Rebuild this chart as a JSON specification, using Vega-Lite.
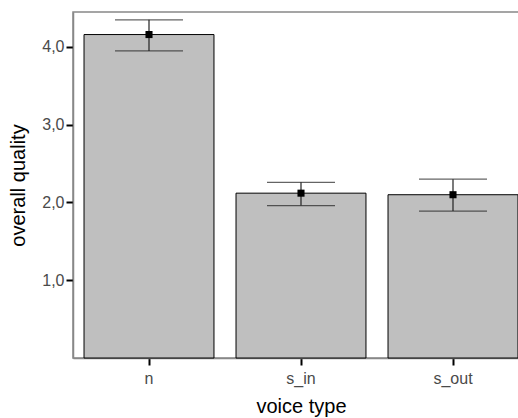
{
  "$schema": "https://vega.github.io/schema/vega-lite/v6.json",
  "autosize": "none",
  "padding": {"left": 73, "top": 12, "right": 0, "bottom": 60},
  "width": 456,
  "height": 346,
  "background": "white",
  "config": {
    "font": "Liberation Sans",
    "view": {"stroke": "#888888", "strokeWidth": 1.5},
    "axis": {"grid": false}
  },
  "data": {
    "values": [
      {"type": "n", "mean": 4.16, "lo": 3.95, "hi": 4.35},
      {"type": "s_in", "mean": 2.12, "lo": 1.96, "hi": 2.26},
      {"type": "s_out", "mean": 2.10, "lo": 1.89, "hi": 2.30}
    ]
  },
  "encoding": {
    "x": {
      "field": "type", "type": "nominal",
      "scale": {"paddingInner": 0.145, "paddingOuter": 0.0725},
      "axis": {
        "title": "voice type", "titleFontSize": 20, "titleFontWeight": "normal", "titleColor": "black", "titlePadding": 10,
        "labelAngle": 0, "labelFontSize": 16, "labelColor": "#4a4a4a", "labelPadding": 5,
        "tickColor": "black", "tickWidth": 2, "tickSize": 7,
        "domainColor": "#888888", "domainWidth": 1.5
      }
    }
  },
  "layer": [
    {
      "mark": {"type": "bar", "fill": "#bfbfbf", "stroke": "black", "strokeWidth": 1},
      "encoding": {
        "y": {
          "field": "mean", "type": "quantitative",
          "scale": {"domain": [0, 4.45], "nice": false},
          "axis": {
            "title": "overall quality", "titleFontSize": 20, "titleFontWeight": "normal", "titleColor": "black", "titlePadding": 13,
            "values": [1, 2, 3, 4],
            "labelExpr": "replace(format(datum.value, '.1f'), '.', ',')",
            "labelFontSize": 16, "labelColor": "#4a4a4a", "labelPadding": 2,
            "tickColor": "black", "tickWidth": 2, "tickSize": 7,
            "domainColor": "#888888", "domainWidth": 1.5
          }
        }
      }
    },
    {
      "mark": {"type": "rule", "color": "#222222", "strokeWidth": 1.2},
      "encoding": {
        "y": {"field": "lo", "type": "quantitative"},
        "y2": {"field": "hi"}
      }
    },
    {
      "mark": {"type": "tick", "color": "#222222", "size": 68, "thickness": 1.2},
      "encoding": {"y": {"field": "lo", "type": "quantitative"}}
    },
    {
      "mark": {"type": "tick", "color": "#222222", "size": 68, "thickness": 1.2},
      "encoding": {"y": {"field": "hi", "type": "quantitative"}}
    },
    {
      "mark": {"type": "point", "shape": "square", "filled": true, "color": "black", "size": 50, "opacity": 1},
      "encoding": {"y": {"field": "mean", "type": "quantitative"}}
    }
  ]
}
